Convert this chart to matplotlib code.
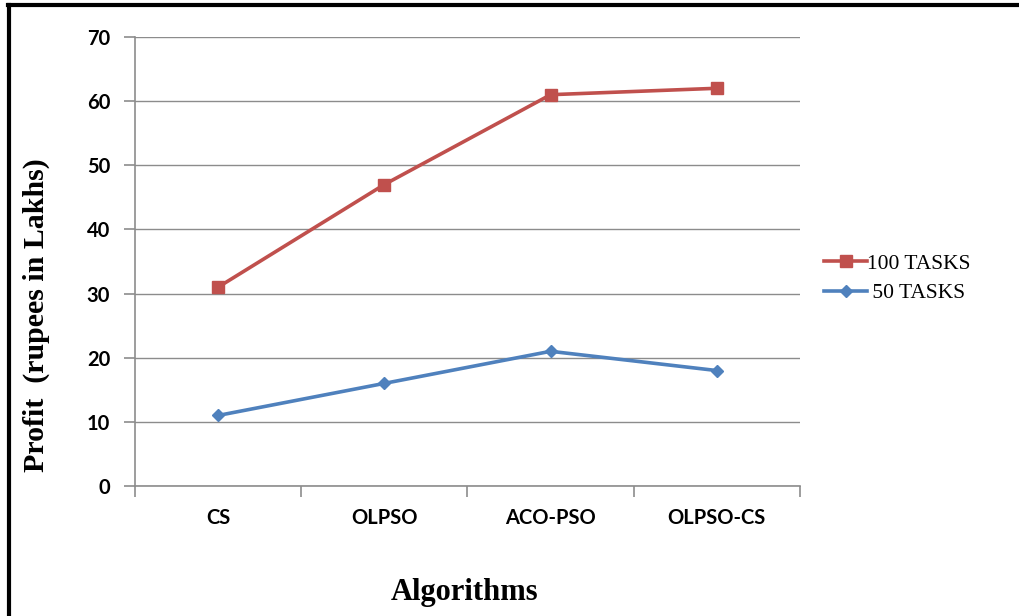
import matplotlib.pyplot as plt
from matplotlib.lines import Line2D

# Veriler
algoritmalar = ["CS", "OLPSO", "ACO-PSO", "OLPSO-CS"]
gorev_100 = [31, 47, 61, 62]
gorev_50 = [11, 16, 21, 18]
y_ticks = [0, 10, 20, 30, 40, 50, 60, 70]

kirmizi = "#C0504D"
mavi = "#4F81BD"
gri = "#8C8C8C"

fig = plt.figure(figsize=(10.19, 6.16), dpi=100)
ax = fig.add_axes([0.1325, 0.211, 0.6525, 0.729])

x = range(len(algoritmalar))
ax.plot(x, gorev_100, color=kirmizi, lw=2.6, marker="s", ms=8, label="100 TASKS")
ax.plot(x, gorev_50, color=mavi, lw=2.6, marker="D", ms=6.5, label=" 50 TASKS")

ax.set_xlim(-0.5, len(algoritmalar) - 0.5)
ax.set_ylim(0, 70)
ax.set_yticks(y_ticks)
ax.set_yticklabels([str(v) for v in y_ticks], fontfamily="Lato", fontweight="bold", fontsize=14.5)
ax.set_xticks(list(x))
ax.set_xticklabels(algoritmalar, fontfamily="Lato", fontweight="bold", fontsize=14.5)
ax.tick_params(axis="x", length=0, pad=16)
ax.tick_params(axis="y", length=8, color=gri, width=1.2, pad=10)

# kategori sinirlarindaki tik isaretleri
ax.set_xticks([i - 0.5 for i in range(len(algoritmalar) + 1)], minor=True)
ax.tick_params(axis="x", which="minor", length=8, color=gri, width=1.2)

ax.grid(axis="y", color=gri, lw=1)
ax.set_axisbelow(True)
for k in ["top", "right"]:
    ax.spines[k].set_visible(False)
ax.spines["left"].set_color(gri)
ax.spines["bottom"].set_color(gri)
ax.spines["left"].set_linewidth(1.2)
ax.spines["bottom"].set_linewidth(1.2)

fig.text(0.036, 0.489, "Profit  (rupees in Lakhs)", rotation=90, ha="center", va="center",
         fontfamily="Liberation Serif", fontweight="bold", fontsize=21.5)
fig.text(0.456, 0.038, "Algorithms", ha="center", va="center",
         fontfamily="Liberation Serif", fontweight="bold", fontsize=22)

fig.legend(loc="center left", bbox_to_anchor=(0.79, 0.548), frameon=False,
           prop={"family": "Liberation Serif", "size": 15.5}, handlelength=2.0,
           handletextpad=0.0, labelspacing=0.45)

# cerceve
fig.add_artist(Line2D([0.008, 1.0], [0.992, 0.992], color="black", lw=3))
fig.add_artist(Line2D([0.009, 0.009], [0.0, 0.992], color="black", lw=3))

fig.savefig("out.png", dpi=100)
